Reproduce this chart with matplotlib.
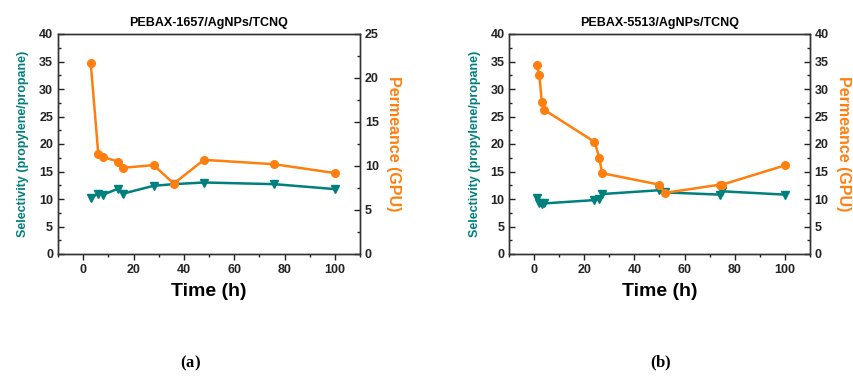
import matplotlib
matplotlib.use('Agg')
import matplotlib.pyplot as plt
from matplotlib.ticker import MultipleLocator

plt.rcParams['font.family'] = ['Liberation Sans', 'DejaVu Sans']
plt.rcParams['font.weight'] = 'bold'

TEAL = '#00807d'
ORANGE = '#ff7f0e'

# panel (a): PEBAX-1657/AgNPs/TCNQ
a_time_perm = [3, 6, 8, 14, 16, 28, 36, 48, 76, 100]
a_perm = [21.7, 11.4, 11.0, 10.5, 9.8, 10.1, 8.0, 10.7, 10.2, 9.2]
a_time_sel = [3, 6, 8, 14, 16, 28, 36, 48, 76, 100]
a_sel = [10.2, 11.0, 10.8, 11.9, 11.0, 12.4, 12.7, 13.0, 12.7, 11.8]

# panel (b): PEBAX-5513/AgNPs/TCNQ
b_time_perm = [1, 2, 3, 4, 24, 26, 27, 50, 52, 74, 75, 100]
b_perm = [34.3, 32.5, 27.6, 26.2, 20.4, 17.5, 14.7, 12.6, 11.1, 12.6, 12.6, 16.1]
b_time_sel = [1, 2, 3, 4, 24, 26, 27, 50, 52, 74, 75, 100]
b_sel = [10.2, 9.2, 9.1, 9.2, 9.8, 10.0, 10.9, 11.6, 11.2, 10.8, 11.4, 10.8]


def style_axis(ax, side):
    for s in ax.spines.values():
        s.set_color('#333333')
        s.set_linewidth(1.0)
    ax.tick_params(axis='y', which='both', direction='in', labelsize=9,
                   colors='#222222', left=(side == 'left'), right=(side == 'right'),
                   labelleft=(side == 'left'), labelright=(side == 'right'))
    ax.tick_params(axis='y', which='major', length=4, width=1)
    ax.tick_params(axis='y', which='minor', length=2.5, width=1)
    for lab in ax.get_yticklabels():
        lab.set_fontweight('bold')


def panel(rect, title, t_sel, sel, t_perm, perm, perm_max, letter, letter_x):
    ax = fig.add_axes(rect)
    ax2 = ax.twinx()
    ax.plot(t_sel, sel, color=TEAL, marker='v', ms=6, lw=1.8, zorder=3)
    ax2.plot(t_perm, perm, color=ORANGE, marker='o', ms=5.5, lw=1.8, zorder=3)

    ax.set_xlim(-10, 110)
    ax.set_ylim(0, 40)
    ax2.set_ylim(0, perm_max)
    ax.xaxis.set_major_locator(MultipleLocator(20))
    ax.xaxis.set_minor_locator(MultipleLocator(10))
    ax.yaxis.set_major_locator(MultipleLocator(5))
    ax.yaxis.set_minor_locator(MultipleLocator(2.5))
    ax2.yaxis.set_major_locator(MultipleLocator(5))
    ax2.yaxis.set_minor_locator(MultipleLocator(2.5))

    ax.tick_params(axis='x', which='both', direction='out', labelsize=9,
                   top=False, colors='#222222')
    ax.tick_params(axis='x', which='major', length=4, width=1)
    ax.tick_params(axis='x', which='minor', length=2.5, width=1)
    for lab in ax.get_xticklabels():
        lab.set_fontweight('bold')
    style_axis(ax, 'left')
    style_axis(ax2, 'right')

    ax.set_title(title, fontsize=9, fontweight='bold', pad=6)
    ax.set_xlabel('Time (h)', fontsize=14, fontweight='bold', labelpad=5)
    ax.set_ylabel('Selectivity (propylene/propane)', fontsize=9,
                  fontweight='bold', color=TEAL, labelpad=7)
    ax2.set_ylabel('Permeance (GPU)', fontsize=11.5, fontweight='bold',
                   color=ORANGE, rotation=-90, labelpad=16)

    fig.text(letter_x, 1 - 363 / 378, '(', family='Liberation Serif',
             fontsize=12, ha='right', va='center')
    fig.text(letter_x, 1 - 363 / 378, letter, family='Liberation Serif',
             fontsize=12, fontweight='bold', ha='left', va='center')
    fig.text(letter_x + 0.0095, 1 - 363 / 378, ')', family='Liberation Serif',
             fontsize=12, ha='left', va='center')
    return ax, ax2


fig = plt.figure(figsize=(8.54, 3.78), dpi=100)
bottom = 1 - 254 / 378
height = 220 / 378
panel([58 / 854, bottom, 302 / 854, height], 'PEBAX-1657/AgNPs/TCNQ',
      a_time_sel, a_sel, a_time_perm, a_perm, 25, 'a', 186 / 854)
panel([509.3 / 854, bottom, 300.4 / 854, height], 'PEBAX-5513/AgNPs/TCNQ',
      b_time_sel, b_sel, b_time_perm, b_perm, 40, 'b', 656 / 854)

fig.savefig('out.png', dpi=100)
